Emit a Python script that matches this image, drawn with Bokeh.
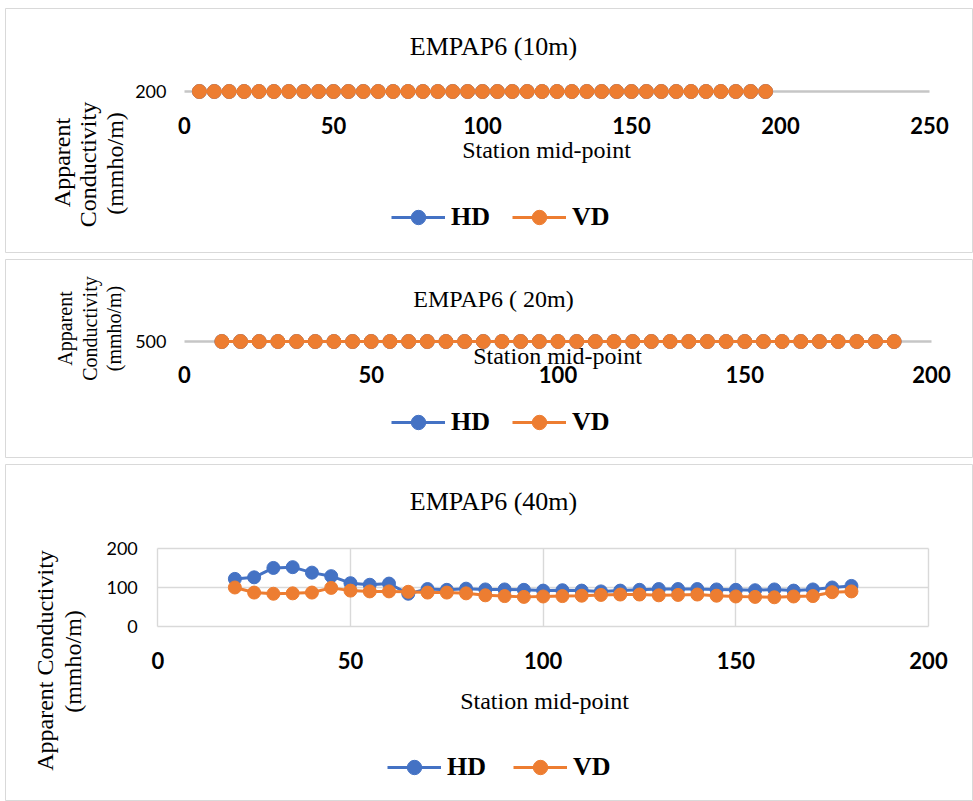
import math
from bokeh.plotting import figure
from bokeh.layouts import column
from bokeh.models import Label, Legend, LegendItem, FixedTicker, Range1d
from bokeh.embed import file_html
from bokeh.resources import INLINE

# ---------------- data ----------------
stations_10m = [5, 10, 15, 20, 25, 30, 35, 40, 45, 50, 55, 60, 65, 70, 75, 80, 85, 90, 95, 100,
                105, 110, 115, 120, 125, 130, 135, 140, 145, 150, 155, 160, 165, 170, 175, 180,
                185, 190, 195]
hd_10m = [200, 200, 200, 200, 200, 200, 200, 200, 200, 200, 200, 200, 200, 200, 200, 200, 200,
          200, 200, 200, 200, 200, 200, 200, 200, 200, 200, 200, 200, 200, 200, 200, 200, 200,
          200, 200, 200, 200, 200]
vd_10m = [200, 200, 200, 200, 200, 200, 200, 200, 200, 200, 200, 200, 200, 200, 200, 200, 200,
          200, 200, 200, 200, 200, 200, 200, 200, 200, 200, 200, 200, 200, 200, 200, 200, 200,
          200, 200, 200, 200, 200]

stations_20m = [10, 15, 20, 25, 30, 35, 40, 45, 50, 55, 60, 65, 70, 75, 80, 85, 90, 95, 100,
                105, 110, 115, 120, 125, 130, 135, 140, 145, 150, 155, 160, 165, 170, 175, 180,
                185, 190]
hd_20m = [500, 500, 500, 500, 500, 500, 500, 500, 500, 500, 500, 500, 500, 500, 500, 500, 500,
          500, 500, 500, 500, 500, 500, 500, 500, 500, 500, 500, 500, 500, 500, 500, 500, 500,
          500, 500, 500]
vd_20m = [500, 500, 500, 500, 500, 500, 500, 500, 500, 500, 500, 500, 500, 500, 500, 500, 500,
          500, 500, 500, 500, 500, 500, 500, 500, 500, 500, 500, 500, 500, 500, 500, 500, 500,
          500, 500, 500]

stations_40m = [20, 25, 30, 35, 40, 45, 50, 55, 60, 65, 70, 75, 80, 85, 90, 95, 100, 105, 110,
                115, 120, 125, 130, 135, 140, 145, 150, 155, 160, 165, 170, 175, 180]
hd_40m = [121, 125, 149, 151, 137, 128, 110, 106, 109, 83, 95, 93, 96, 94, 94, 93, 91, 92, 91,
          89, 91, 93, 95, 95, 95, 94, 93, 92, 94, 91, 94, 99, 103]
vd_40m = [99, 86, 83, 84, 86, 98, 91, 89, 89, 88, 86, 86, 84, 79, 77, 75, 76, 77, 78,
          80, 81, 81, 79, 80, 81, 78, 76, 75, 74, 76, 77, 87, 89]

x_ticks_10m = [0, 50, 100, 150, 200, 250]
x_ticks_20m = [0, 50, 100, 150, 200]
x_ticks_40m = [0, 50, 100, 150, 200]
y_ticks_10m = [200]
y_ticks_20m = [500]
y_ticks_40m = [0, 100, 200]

titles = ["EMPAP6 (10m)", "EMPAP6 ( 20m)", "EMPAP6 (40m)"]
series_names = ["HD", "VD"]
x_title = "Station mid-point"

# ---------------- style ----------------
BLUE = "#4472C4"
ORANGE = "#ED7D31"
SERIF = "Liberation Serif"
SANS = "Lato"
GRID = "#d9d9d9"
FIG_W = 968


class Map:
    """Pixel placement of one panel: (x0px, px per x unit), (y value at ypx, px per y unit)."""
    def __init__(self, top, height, x0px, xs, yref, yrefpx, ys):
        self.top, self.h = top, height
        self.x0px, self.xs, self.yref, self.yrefpx, self.ys = x0px, xs, yref, yrefpx, ys

    def X(self, px):
        return (px - self.x0px) / self.xs

    def Y(self, py):
        return self.yref + (self.yrefpx - py) / self.ys

    def xr(self):
        return Range1d(self.X(5), self.X(5 + FIG_W))

    def yr(self):
        return Range1d(self.Y(self.top + self.h), self.Y(self.top))


def base_fig(m):
    p = figure(width=FIG_W, height=m.h, x_range=m.xr(), y_range=m.yr(),
               output_backend="svg", toolbar_location=None,
               min_border_left=0, min_border_right=0, min_border_top=0, min_border_bottom=0)
    p.background_fill_color = "white"
    p.border_fill_color = "white"
    p.outline_line_color = GRID
    p.outline_line_width = 1
    for ax in (p.xaxis[0], p.yaxis[0]):
        ax.axis_line_color = None
        ax.major_tick_line_color = None
        ax.minor_tick_line_color = None
        ax.major_tick_out = 0
        ax.major_tick_in = 0
        ax.minor_tick_out = 0
        ax.minor_tick_in = 0
    p.xaxis.major_label_text_font = SANS
    p.xaxis.major_label_text_font_style = "bold"
    p.xaxis.major_label_text_font_size = "22px"
    p.xaxis.major_label_text_color = "black"
    p.yaxis.major_label_text_font = SANS
    p.yaxis.major_label_text_font_size = "18px"
    p.yaxis.major_label_text_color = "black"
    return p


def add_series(p, xs, hd, vd, size, lw):
    l1 = p.line(xs, hd, line_color=BLUE, line_width=lw)
    c1 = p.scatter(xs, hd, size=size, fill_color=BLUE, line_color=BLUE)
    l2 = p.line(xs, vd, line_color=ORANGE, line_width=lw)
    c2 = p.scatter(xs, vd, size=size, fill_color=ORANGE, line_color=ORANGE)
    return [(l1, c1), (l2, c2)]


def add_legend(p, rends, loc, spacing):
    items = [LegendItem(label=series_names[i], renderers=list(rends[i])) for i in range(2)]
    lg = Legend(items=items, orientation="horizontal", location=loc,
                glyph_width=54, glyph_height=36, label_height=36, label_standoff=6,
                spacing=spacing, padding=0, margin=0,
                border_line_alpha=0, background_fill_alpha=0,
                label_text_font=SERIF, label_text_font_style="bold",
                label_text_font_size="26px", label_text_color="black")
    p.add_layout(lg)


def lab(p, m, px, py, text, size, angle=0.0):
    p.add_layout(Label(x=m.X(px), y=m.Y(py), text=text, text_font=SERIF, text_font_size=size,
                       text_align="center", text_baseline="middle", angle=angle,
                       text_color="black"))


# ---------------- chart 1 (10m) ----------------
m1 = Map(8, 245, 184, 2.98, 200, 91, 1.0)
p1 = base_fig(m1)
p1.xaxis.ticker = FixedTicker(ticks=x_ticks_10m)
p1.yaxis.ticker = FixedTicker(ticks=y_ticks_10m)
p1.xaxis.fixed_location = 200
p1.yaxis.fixed_location = 0
p1.xaxis.major_label_standoff = 25
p1.yaxis.major_label_standoff = 18
p1.xgrid.grid_line_color = None
p1.ygrid.ticker = FixedTicker(ticks=y_ticks_10m)
p1.ygrid.bounds = (199, 201)
p1.ygrid.cross_bounds = (0, 250)
p1.ygrid.grid_line_color = "#c6c6c6"
p1.ygrid.grid_line_width = 2.5
r1 = add_series(p1, stations_10m, hd_10m, vd_10m, 14, 3)
add_legend(p1, r1, (386, 18), 22)
lab(p1, m1, 493, 46, titles[0], "26px")
lab(p1, m1, 546, 149, x_title, "24px")
lab(p1, m1, 61, 162, "Apparent", "24px", math.pi / 2)
lab(p1, m1, 87, 164, "Conductivity", "24px", math.pi / 2)
lab(p1, m1, 114, 163, "(mmho/m)", "24px", math.pi / 2)

# ---------------- chart 2 (20m) ----------------
m2 = Map(259, 199, 184, 3.735, 500, 341, 1.0)
p2 = base_fig(m2)
p2.xaxis.ticker = FixedTicker(ticks=x_ticks_20m)
p2.yaxis.ticker = FixedTicker(ticks=y_ticks_20m)
p2.xaxis.fixed_location = 500
p2.yaxis.fixed_location = 0
p2.xaxis.major_label_standoff = 24
p2.yaxis.major_label_standoff = 18
p2.xgrid.grid_line_color = None
p2.ygrid.ticker = FixedTicker(ticks=y_ticks_20m)
p2.ygrid.bounds = (499, 501)
p2.ygrid.cross_bounds = (0, 200)
p2.ygrid.grid_line_color = "#c6c6c6"
p2.ygrid.grid_line_width = 2.5
r2 = add_series(p2, stations_20m, hd_20m, vd_20m, 14, 3)
add_legend(p2, r2, (386, 18), 22)
lab(p2, m2, 493, 298, titles[1], "24px")
lab(p2, m2, 557, 355, x_title, "24px")
lab(p2, m2, 64, 328, "Apparent", "20px", math.pi / 2)
lab(p2, m2, 89, 328, "Conductivity", "20px", math.pi / 2)
lab(p2, m2, 113, 328, "(mmho/m)", "20px", math.pi / 2)

# ---------------- chart 3 (40m) ----------------
m3 = Map(464, 337, 157.3, 3.8535, 0, 625.7, 0.391)
p3 = base_fig(m3)
p3.xaxis.ticker = FixedTicker(ticks=x_ticks_40m)
p3.yaxis.ticker = FixedTicker(ticks=y_ticks_40m)
p3.xaxis.fixed_location = 0
p3.yaxis.fixed_location = 0
p3.xaxis.major_label_standoff = 26
p3.yaxis.major_label_standoff = 20
p3.xgrid.ticker = FixedTicker(ticks=x_ticks_40m)
p3.ygrid.ticker = FixedTicker(ticks=y_ticks_40m)
p3.xgrid.bounds = (-1, 201)
p3.ygrid.bounds = (-1, 201)
p3.xgrid.cross_bounds = (0, 200)
p3.ygrid.cross_bounds = (0, 200)
p3.xgrid.grid_line_color = GRID
p3.ygrid.grid_line_color = GRID
p3.xgrid.grid_line_width = 1.4
p3.ygrid.grid_line_width = 1.4
r3 = add_series(p3, stations_40m, hd_40m, vd_40m, 13, 3)
add_legend(p3, r3, (382, 16), 27)
lab(p3, m3, 493, 501, titles[2], "26px")
lab(p3, m3, 544, 700, x_title, "24px")
lab(p3, m3, 44, 660, "Apparent Conductivity", "24px", math.pi / 2)
lab(p3, m3, 72, 661, "(mmho/m)", "24px", math.pi / 2)

p1.margin = (8, 0, 0, 5)
p2.margin = (6, 0, 0, 5)
p3.margin = (6, 0, 0, 5)

layout = column(p1, p2, p3, spacing=0)
open("out.html", "w").write(file_html(layout, INLINE))
